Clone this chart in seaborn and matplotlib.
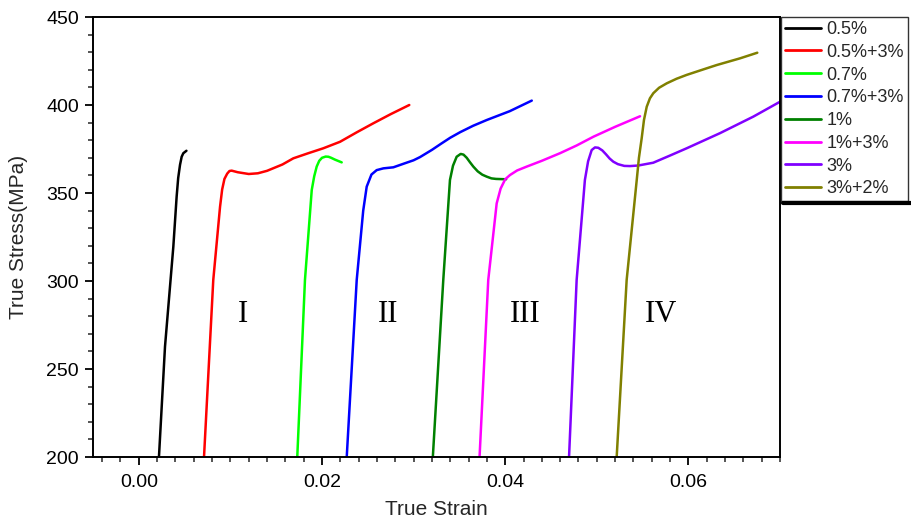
import numpy as np
import pandas as pd
import matplotlib
matplotlib.use("Agg")
import matplotlib.pyplot as plt
from matplotlib.lines import Line2D
from matplotlib.ticker import MultipleLocator
import seaborn as sns

labels = ["0.5%", "0.5%+3%", "0.7%", "0.7%+3%", "1%", "1%+3%", "3%", "3%+2%"]
colors = ["#000000", "#ff0000", "#00ff00", "#0000ff", "#008000", "#ff00ff", "#8000ff", "#808000"]

strain_05 = [0.0022, 0.00286, 0.00377, 0.00413, 0.0043, 0.0045, 0.00468, 0.00486, 0.0052]
stress_05 = [200, 262.7, 319.5, 347.9, 358.5, 366.0, 370.6, 372.6, 374.0]

strain_05_3 = [0.00712, 0.00813, 0.00887, 0.00910, 0.00935, 0.00965, 0.00990, 0.01014, 0.0108, 0.0120, 0.0130, 0.0140, 0.01568, 0.01687, 0.0185, 0.02014, 0.02197, 0.0238, 0.0256, 0.0275, 0.02953]
stress_05_3 = [200, 300.6, 342.2, 352.0, 358.0, 361.0, 362.5, 362.7, 361.8, 360.8, 361.2, 362.6, 366.2, 369.7, 372.6, 375.4, 379.1, 384.5, 389.6, 394.8, 400.0]

strain_07 = [0.0173, 0.01814, 0.01888, 0.01915, 0.01942, 0.0197, 0.0200, 0.0204, 0.0207, 0.0210, 0.0214, 0.02215]
stress_07 = [200, 300.6, 351.7, 359.5, 365.0, 368.3, 370.0, 370.7, 370.6, 370.0, 369.0, 367.4]

strain_07_3 = [0.0227, 0.02379, 0.02450, 0.02488, 0.02540, 0.02597, 0.0267, 0.02779, 0.0290, 0.0300, 0.0307, 0.0320, 0.0330, 0.0340, 0.0351, 0.0365, 0.0380, 0.0405, 0.0429]
stress_07_3 = [200, 300.6, 340.0, 353.6, 360.5, 363.0, 364.0, 364.6, 366.8, 368.6, 370.4, 374.5, 378.0, 381.4, 384.6, 388.2, 391.5, 396.5, 402.5]

strain_1 = [0.0321, 0.03324, 0.03397, 0.03430, 0.03470, 0.03514, 0.03545, 0.03580, 0.03615, 0.03652, 0.0370, 0.03750, 0.03798, 0.0385, 0.0390, 0.0401]
stress_1 = [200, 300.6, 357.4, 365.5, 370.6, 372.2, 371.8, 370.0, 367.5, 365.0, 362.3, 360.4, 359.3, 358.3, 358.0, 357.8]

strain_1_3 = [0.0372, 0.03815, 0.03907, 0.03950, 0.0400, 0.04052, 0.0413, 0.04235, 0.0440, 0.04598, 0.0478, 0.04964, 0.0520, 0.05472]
stress_1_3 = [200, 300.6, 344.1, 352.5, 357.8, 360.2, 362.8, 365.0, 368.3, 372.6, 377.0, 382.0, 387.6, 393.6]

strain_3 = [0.04697, 0.0478, 0.0487, 0.04905, 0.04944, 0.0498, 0.05016, 0.0506, 0.0510, 0.0514, 0.0518, 0.0523, 0.0530, 0.05362, 0.0545, 0.05616, 0.0580, 0.05981, 0.06345, 0.06709, 0.06981, 0.0720]
stress_3 = [200, 300.6, 357.4, 368.0, 374.4, 375.9, 375.7, 374.2, 372.0, 369.6, 367.8, 366.4, 365.4, 365.3, 365.6, 367.2, 371.3, 375.4, 384.0, 393.4, 401.3, 407.5]

strain_3_2 = [0.05217, 0.05326, 0.05436, 0.0546, 0.0549, 0.05515, 0.05545, 0.0558, 0.05617, 0.0568, 0.05763, 0.0587, 0.05981, 0.0615, 0.06309, 0.06563, 0.06752]
stress_3_2 = [200, 300.6, 357.4, 370.0, 381.1, 391.5, 399.0, 403.8, 406.7, 409.8, 412.3, 414.9, 417.1, 420.0, 422.7, 426.5, 429.7]

series = [
    (strain_05, stress_05), (strain_05_3, stress_05_3), (strain_07, stress_07),
    (strain_07_3, stress_07_3), (strain_1, stress_1), (strain_1_3, stress_1_3),
    (strain_3, stress_3), (strain_3_2, stress_3_2),
]

region_labels = ["I", "II", "III", "IV"]
region_x = [0.0114, 0.0272, 0.0422, 0.0570]
region_y = [281, 281, 281, 281]

frames = []
for lab, (xs, ys) in zip(labels, series):
    frames.append(pd.DataFrame({"strain": xs, "stress": ys, "sample": lab}))
df = pd.concat(frames, ignore_index=True)

sns.set_style("ticks")
plt.rcParams["font.family"] = ["Liberation Sans", "DejaVu Sans"]

fig = plt.figure(figsize=(9.12, 5.2), dpi=100)
ax = fig.add_axes([93 / 912, 63 / 520, 687 / 912, 440 / 520])

sns.lineplot(data=df, x="strain", y="stress", hue="sample", hue_order=labels,
             palette=dict(zip(labels, colors)), sort=False, estimator=None,
             linewidth=1.8, ax=ax, legend=False)

for t, xx, yy in zip(region_labels, region_x, region_y):
    ax.text(xx, yy, t, ha="center", va="center", fontsize=22,
            family=["Liberation Serif", "DejaVu Serif"], color="black")

ax.set_xlim(-0.005, 0.07)
ax.set_ylim(200, 450)
ax.xaxis.set_major_locator(MultipleLocator(0.02))
ax.xaxis.set_minor_locator(MultipleLocator(0.002))
ax.yaxis.set_major_locator(MultipleLocator(50))
ax.yaxis.set_minor_locator(MultipleLocator(10))
ax.xaxis.set_major_formatter(matplotlib.ticker.FormatStrFormatter("%.2f"))
ax.tick_params(axis="both", which="major", direction="out", length=6, width=1.3,
               labelsize=14, colors="black", pad=4)
ax.tick_params(axis="x", which="major", pad=6)
ax.tick_params(axis="both", which="minor", direction="out", length=3.5, width=1.1)
for s in ax.spines.values():
    s.set_visible(True)
    s.set_linewidth(1.4)
    s.set_color("black")

ax.set_xlabel("True Strain", fontsize=15, labelpad=7)
ax.set_ylabel("True Stress(MPa)", fontsize=15, labelpad=13)

handles = [Line2D([0], [0], color=c, lw=2) for c in colors]
leg = fig.legend(handles, labels, loc="upper left",
                 bbox_to_anchor=(781 / 912, 503 / 520), frameon=True,
                 fancybox=False, fontsize=13, handlelength=2.0,
                 handletextpad=0.3, labelspacing=0.32, borderpad=0.22,
                 borderaxespad=0)
leg.get_frame().set_edgecolor("black")
leg.get_frame().set_linewidth(1.0)
fig.add_artist(Line2D([783 / 912, 1.0], [317 / 520, 317 / 520],
                      color="black", linewidth=3, transform=fig.transFigure,
                      zorder=10))

fig.savefig("out.png", dpi=100)
